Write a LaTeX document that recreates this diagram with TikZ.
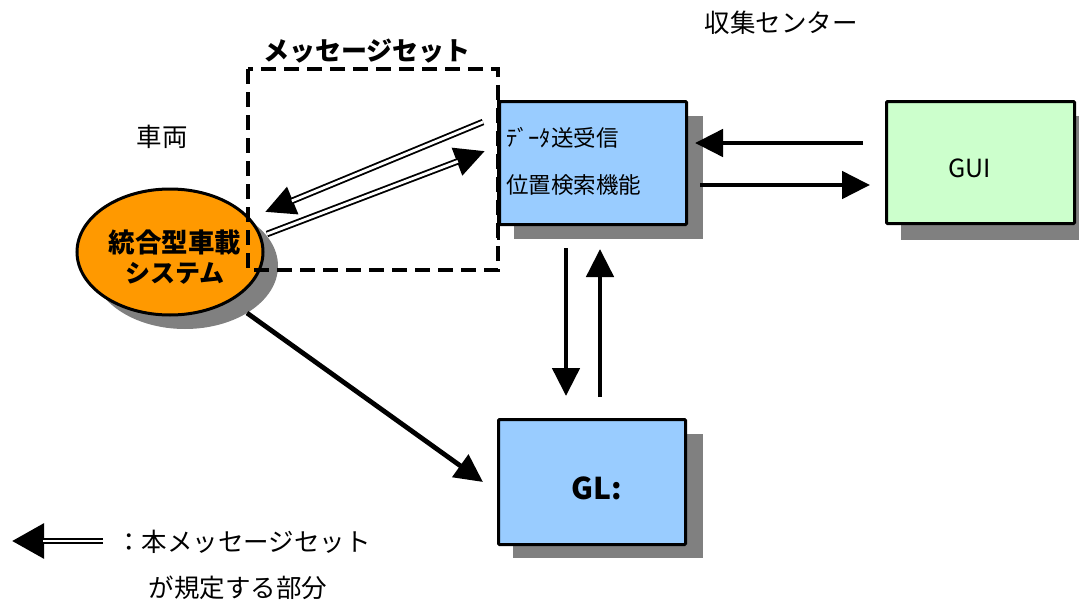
\documentclass[tikz,border=0pt]{standalone}
\usepackage{fontspec}
\setmainfont{Noto Sans CJK JP}
\usetikzlibrary{arrows.meta,shapes.geometric}
\definecolor{boxblue}{HTML}{99CCFF}
\definecolor{boxgreen}{HTML}{CCFFCC}
\definecolor{vorange}{HTML}{FF9900}
\definecolor{shadowgray}{HTML}{808080}
\newcommand\fsz[1]{\fontsize{#1}{#1}\selectfont}
\begin{document}
\begin{tikzpicture}[x=1pt,y=-1pt,
  box/.style={draw=black, line width=3pt, rounded corners=1pt, inner sep=0pt, anchor=north west},
  thickarrow/.style={line width=4.8pt, -{Triangle[length=28pt,width=27pt]}},
  dblarrow/.style={line width=6.5pt, -{Triangle[length=30pt,width=28pt]},
     postaction={draw=white, line width=2.8pt, -, shorten >=29pt}},
  lbl/.style={inner sep=0pt, font=\fsz{25.5}},
  boxtxt/.style={inner sep=0pt, anchor=west, font=\fsz{22.5}}]
\useasboundingbox (0,0) rectangle (1079,602);

% shadows
\fill[shadowgray] (185,266) ellipse [x radius=93pt, y radius=63pt];
\fill[shadowgray] (514,116) rectangle (703,239);
\fill[shadowgray] (901,116) rectangle (1079,240);
\fill[shadowgray] (513,434) rectangle (703,558);

% vehicle system
\node[ellipse, draw=black, line width=3pt, fill=vorange, minimum width=186pt, minimum height=126pt, inner sep=0pt] (veh) at (170,252) {};
\node[inner sep=0pt, font=\fsz{26.5}\bfseries] (veh1) at (175,242) {統合型車載};
\node[inner sep=0pt, font=\fsz{25}\bfseries] (veh2) at (175,273) {システム};

% message set dashed region
\draw[line width=3.2pt, dash pattern=on 15pt off 8pt] (248,69) rectangle (498,270);
\node[inner sep=0pt, font=\fsz{26}\bfseries] (msgset) at (367,51) {メッセージセット};

% boxes
\node[box, fill=boxblue, minimum width=187pt, minimum height=123pt] (data) at (498,100) {};
\draw[line width=3pt] (498,85) -- (498,240);
\node[boxtxt] (data1) at (506,138) {ﾃﾞｰﾀ送受信};
\node[boxtxt] (data2) at (506,185) {位置検索機能};

\node[box, fill=boxgreen, minimum width=188pt, minimum height=122pt] (gui) at (885,100) {};
\node[inner sep=0pt, font=\fsz{25}] (guit) at (970,168) {GUI};

\node[box, fill=boxblue, minimum width=187pt, minimum height=125pt] (gl) at (497,418) {};
\node[inner sep=0pt, font=\fsz{30}] (glt) at (597,488) {\bfseries GL:};

% labels
\node[lbl] (car) at (162,137) {車両};
\node[lbl] (center) at (781,23) {収集センター};

% connectors
\coordinate (aS) at (483,122);
\coordinate (aT) at (265,212);
\coordinate (bS) at (267,234);
\coordinate (bT) at (485,151);
\draw[dblarrow] (aS) -- (aT);
\draw[dblarrow] (bS) -- (bT);

\coordinate (g1S) at (863,143);
\coordinate (g1T) at (695,143);
\coordinate (g2S) at (700,185);
\coordinate (g2T) at (870,185);
\draw[thickarrow] (g1S) -- (g1T);
\draw[thickarrow] (g2S) -- (g2T);

\coordinate (dS) at (566,248);
\coordinate (dT) at (566,396);
\coordinate (uS) at (600,397);
\coordinate (uT) at (600,249);
\draw[thickarrow] (dS) -- (dT);
\draw[thickarrow] (uS) -- (uT);

\coordinate (vS) at (247,313);
\coordinate (vT) at (483,482);
\draw[thickarrow] (vS) -- (vT);

% legend
\coordinate (lgS) at (103,541);
\coordinate (lgT) at (12,541);
\draw[line width=6pt, -{Triangle[length=32pt,width=34pt]},
     postaction={draw=white, line width=2.4pt, -, shorten >=31pt}] (lgS) -- (lgT);
\node[lbl, anchor=west] (leg1) at (116,542) {：本メッセージセット};
\node[lbl] (leg2) at (238,588) {が規定する部分};
\end{tikzpicture}
\end{document}
